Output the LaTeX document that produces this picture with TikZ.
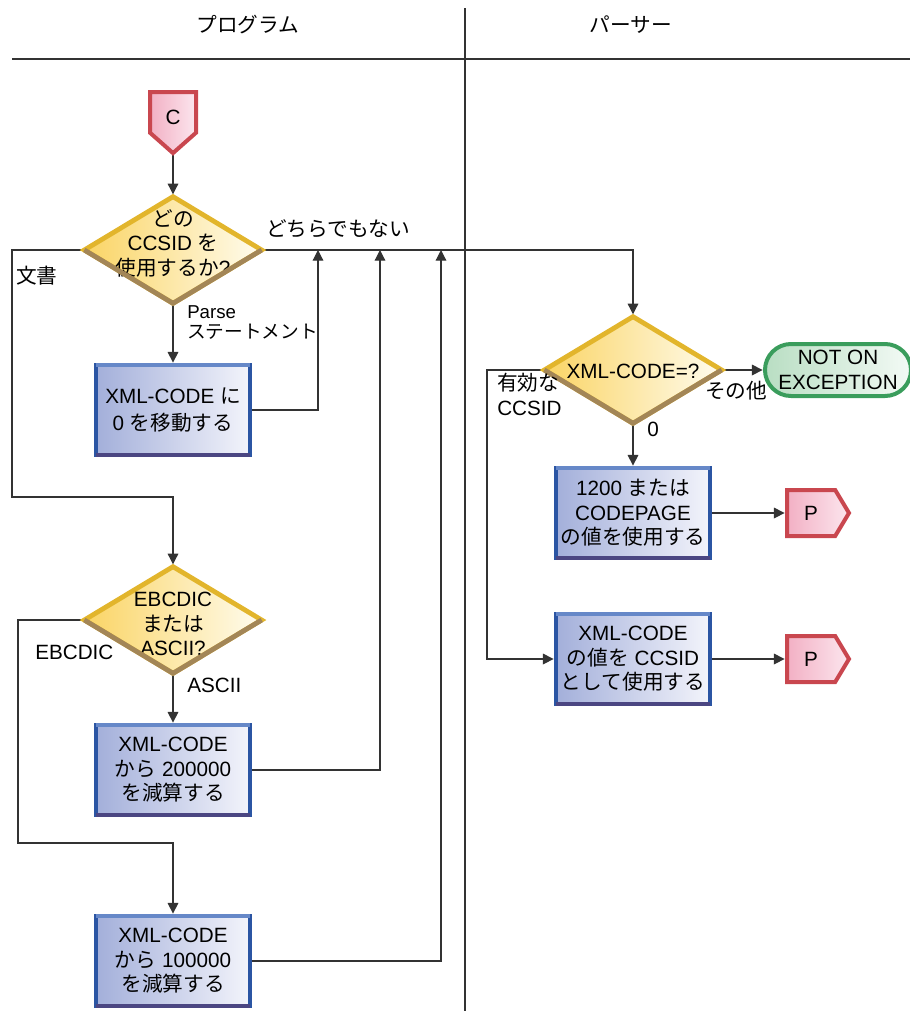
\documentclass[tikz,border=0pt]{standalone}
\usepackage{fontspec}
\setmainfont{Liberation Sans}
\newfontfamily\jp{Noto Sans CJK JP}
\usetikzlibrary{shapes.geometric,shapes.symbols,shapes.misc,arrows.meta,backgrounds}

\definecolor{boxblue}{HTML}{2B55A3}
\definecolor{boxtopc}{HTML}{6688C8}
\definecolor{boxbotc}{HTML}{4B4682}
\definecolor{boxleft}{HTML}{A3AFDA}
\definecolor{boxright}{HTML}{F3F4FB}
\definecolor{dgold}{HTML}{E2B52C}
\definecolor{dbrown}{HTML}{A38657}
\definecolor{dleft}{HTML}{FAD464}
\definecolor{dright}{HTML}{FFFCEE}
\definecolor{pred}{HTML}{C9474F}
\definecolor{pleft}{HTML}{F2B0C4}
\definecolor{pright}{HTML}{FCE6EE}
\definecolor{tgreen}{HTML}{3A9D5C}
\definecolor{tleft}{HTML}{B9DEC3}
\definecolor{tright}{HTML}{F3FAF5}
\definecolor{lineg}{HTML}{333333}

\tikzset{
  txt/.style={font=\fontsize{15.5}{18.4}\selectfont, align=center, inner sep=0pt},
  lbl/.style={font=\fontsize{15.5}{18.4}\selectfont, align=left, inner sep=0pt},
  lbls/.style={font=\fontsize{14}{15}\selectfont, align=left, inner sep=0pt},
  procbox/.style={rectangle, draw=boxblue, line width=3.6pt, left color=boxleft, right color=boxright, minimum width=115.5pt, minimum height=67.5pt, outer sep=0pt, txt},
  decision/.style={diamond, draw=dgold, line width=3.6pt, left color=dleft, right color=dright, minimum width=133pt, minimum height=80pt, inner sep=0pt, outer sep=0pt},
  offpage/.style={signal, draw=pred, line width=3pt, left color=pleft, right color=pright, outer sep=0pt, txt},
  endpill/.style={rounded rectangle, draw=tgreen, line width=3pt, left color=tleft, right color=tright, minimum width=109.5pt, minimum height=39pt, outer sep=0pt, txt},
  flow/.style={line width=0.9pt, draw=lineg, -{Triangle[length=8pt,width=8pt]}, shorten >=1.8pt},
  mergearr/.style={line width=0.9pt, draw=lineg, -{Triangle[length=8pt,width=8pt]}},
}

\begin{document}
\begin{tikzpicture}[x=0.75pt,y=0.75pt,yscale=-1,xscale=1]
\useasboundingbox (0,0) rectangle (910,1011);

%=====Fejlec=======
\node[txt] (hprog) at (248,25) {\jp プログラム};
\node[txt] (hpars) at (631,25) {\jp パーサー};
\draw [line width=2.2pt, lineg] (12,59) -- (910,59);
\draw [line width=1.4pt, lineg] (465,8) -- (465,1011);

%=====Program oszlop=======
\node[offpage, signal to=south, signal pointer angle=97, minimum width=34.5pt, minimum height=35.5pt, text height=18pt, text depth=0pt, anchor=north] (C) at (173,92) {C};
\node[decision] (d1) at (173,250) {};
\node[txt] (d1t) at (173,243) {{\jp どの}\\CCSID {\jp を}\\{\jp 使用するか}?};
\node[procbox] (mv) at (173,410) {XML-CODE {\jp に}\\[1.5pt]0 {\jp を移動する}};
\node[decision] (d2) at (173,620) {};
\node[txt] (d2t) at (173,624) {EBCDIC\\{\jp または}\\ASCII?};
\node[procbox] (sub2) at (173,770) {XML-CODE\\{\jp から} 200000\\{\jp を減算する}};
\node[procbox] (sub1) at (173,961) {XML-CODE\\{\jp から} 100000\\{\jp を減算する}};

%=====Parser oszlop=======
\node[decision] (d3) at (633,370) {};
\node[txt] (d3t) at (633,371) {XML-CODE=?};
\node[endpill] (nt) at (838,370) {NOT ON\\EXCEPTION};
\node[procbox] (cp) at (633,513) {1200 {\jp または}\\CODEPAGE\\{\jp の値を使用する}};
\node[procbox] (cc) at (633,659) {XML-CODE\\{\jp の値を} CCSID\\{\jp として使用する}};
\node[offpage, signal to=east, signal pointer angle=118, minimum width=46.5pt, minimum height=34.5pt, anchor=west] (p1) at (787,513) {P};
\node[offpage, signal to=east, signal pointer angle=118, minimum width=46.5pt, minimum height=34.5pt, anchor=west] (p2) at (787,659) {P};

%=====Elek szinezese=======
\foreach \b in {mv,sub2,sub1,cp,cc}{
  \draw [line width=3.6pt, boxtopc] (\b.north west) -- (\b.north east);
  \draw [line width=3.6pt, boxbotc] (\b.south west) -- (\b.south east);
}
\foreach \d in {d1,d2,d3}
  \draw [line width=3.6pt, dbrown] (\d.west) -- (\d.south) -- (\d.east);

%=====Vonalak=======
\coordinate (lft1) at (12,497);
\coordinate (lft2) at (18,843);
\coordinate (lft3) at (487,370);
\coordinate (m1) at (318,250);
\coordinate (m2) at (380,250);
\coordinate (m3) at (441,250);

\begin{scope}[on background layer]
\draw [flow] (C.south) -- (d1.north);
\draw [flow] (d1.east) -| (d3.north);
\draw [flow] (d1.west) -| (lft1) -| (d2.north);
\draw [flow] (d1.south) -- (mv.north);
\draw [mergearr] (mv.east) -| (m1);
\draw [flow] (d2.west) -| (lft2) -| (sub1.north);
\draw [flow] (d2.south) -- (sub2.north);
\draw [mergearr] (sub2.east) -| (m2);
\draw [mergearr] (sub1.east) -| (m3);
\draw [flow] (d3.east) -- (nt.west);
\draw [flow] (d3.south) -- (cp.north);
\draw [flow] (d3.west) -- (lft3) |- (cc.west);
\draw [flow] (cp.east) -- (p1.west);
\draw [flow] (cc.east) -- (p2.west);
\end{scope}

%======Feliratok=========
\node[lbl, anchor=west] (ln) at (266,229) {\jp どちらでもない};
\node[lbl, anchor=west] (ldoc) at (16,276) {\jp 文書};
\node[lbls, anchor=north west] (lps) at (187,305) {Parse\\{\jp ステートメント}};
\node[lbl, anchor=west] (leb) at (35,652) {EBCDIC};
\node[lbl, anchor=west] (las) at (187,685) {ASCII};
\node[lbl, anchor=west] (loth) at (705,391) {\jp その他};
\node[lbl, anchor=west] (lzero) at (647,429) {0};
\node[lbl, anchor=north west] (lval) at (497,373) {{\jp 有効な}\\CCSID};

\end{tikzpicture}
\end{document}
